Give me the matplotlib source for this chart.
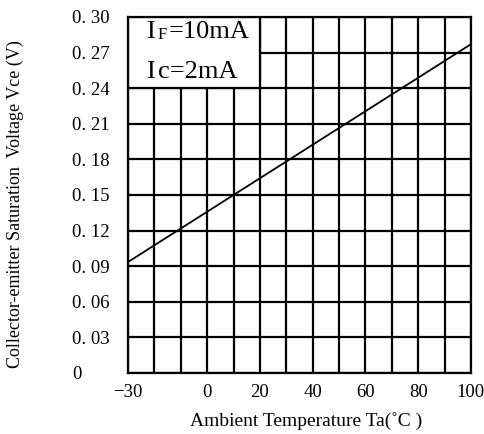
import matplotlib
matplotlib.use("Agg")
import matplotlib.pyplot as plt
from matplotlib.patches import Rectangle

plt.rcParams['font.family'] = ['Liberation Serif', 'DejaVu Serif']

# data
temp = [-30, 100]
vce = [0.0935, 0.277]

x_ticks = list(range(-30, 101, 10))
x_labels = ['−30', '', '', '0', '', '20', '', '40', '', '60', '', '80', '', '100']
y_ticks = [0, 0.03, 0.06, 0.09, 0.12, 0.15, 0.18, 0.21, 0.24, 0.27, 0.30]
y_labels = ['0', '0. 03', '0. 06', '0. 09', '0. 12', '0. 15', '0. 18',
            '0. 21', '0. 24', '0. 27', '0. 30']

fig = plt.figure(figsize=(4.84, 4.34), dpi=100)
ax = fig.add_axes([0.2645, 0.1406, 0.7085, 0.8204])

ax.set_xlim(-30, 100)
ax.set_ylim(0, 0.30)
ax.set_xticks(x_ticks)
ax.set_xticklabels(x_labels, fontsize=13.5)
ax.set_yticks(y_ticks)
ax.set_yticklabels(y_labels, fontsize=13.5, ha='left')
ax.tick_params(axis='both', length=0)
ax.tick_params(axis='x', pad=8)
ax.tick_params(axis='y', pad=40)

ax.set_axisbelow(True)
ax.grid(True, color='black', lw=1.6)
for sp in ax.spines.values():
    sp.set_linewidth(1.6)

# condition box in the top-left corner
ax.add_patch(Rectangle((-30, 0.24), 50, 0.06, facecolor='white',
                       edgecolor='black', lw=1.6, zorder=2))
t1 = ax.text(-23, 0.2823, 'I', fontsize=19, va='baseline', zorder=3)
t2 = ax.annotate('F', xy=(1, 0), xycoords=t1, xytext=(2, 0),
                 textcoords='offset points', fontsize=12,
                 va='bottom', ha='left', zorder=3)
ax.annotate('=10mA', xy=(1, 0), xycoords=t2, xytext=(1, 0),
            textcoords='offset points', fontsize=19,
            va='bottom', ha='left', zorder=3)
t3 = ax.text(-23, 0.2486, 'I', fontsize=19, va='baseline', zorder=3)
ax.annotate('c=2mA', xy=(1, 0), xycoords=t3, xytext=(2, 0),
            textcoords='offset points', fontsize=19,
            va='bottom', ha='left', zorder=3)

ax.plot(temp, vce, color='black', lw=1.3, zorder=3)

ax.set_xlabel('Ambient Temperature Ta(˚C )', fontsize=14, labelpad=4)
ax.xaxis.set_label_coords(0.52, -0.11)
fig.text(0.032, 0.53, 'Collector-emitter Saturation  Voltage Vce (V)',
         rotation=90, ha='center', va='center', fontsize=13)

fig.savefig('out.png', dpi=100)
